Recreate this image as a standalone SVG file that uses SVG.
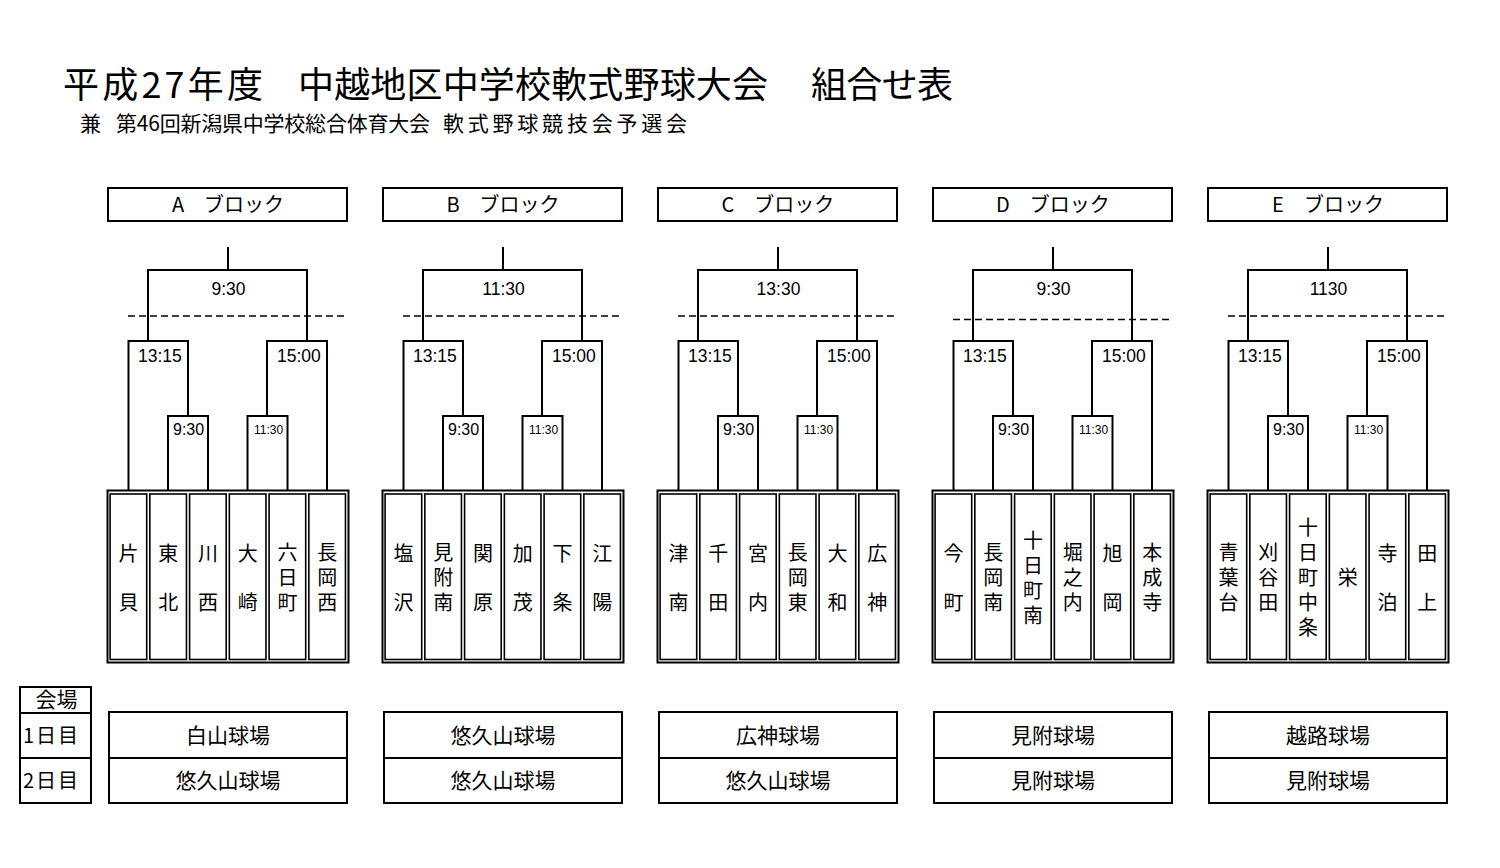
<svg xmlns="http://www.w3.org/2000/svg" width="1500" height="868" viewBox="0 0 1500 868">
<style>
.box{fill:#fff;stroke:#000;stroke-width:2}
.cell{fill:#fff;stroke:#000;stroke-width:1.6}
.ln{fill:none;stroke:#000;stroke-width:2}
.dash{fill:none;stroke:#000;stroke-width:1.6;stroke-dasharray:7 4}
.jp{font-family:"Noto Sans CJK JP","Noto Sans",sans-serif;fill:#000}
.tm{font-family:"Noto Sans CJK JP","Noto Sans",sans-serif;fill:#000;font-size:20px;text-anchor:middle;writing-mode:vertical-rl}
.s2{letter-spacing:29px}
.s3{letter-spacing:5px}
.hd{font-family:"Noto Sans CJK JP","Noto Sans",sans-serif;fill:#000;font-size:20px;text-anchor:middle}
.vn{font-family:"Noto Sans CJK JP","Noto Sans",sans-serif;fill:#000;font-size:21px;text-anchor:middle}
.num{font-family:"Liberation Sans",Arial,sans-serif;fill:#000}
.t18{font-size:17.5px}
.t16{font-size:16px}
.t12{font-size:12px}
.mid{text-anchor:middle}
</style>
<rect width="1500" height="868" fill="#fff"/>

<g id="title">
<text class="jp" x="63" y="98" font-size="36" textLength="200">平成27年度</text>
<text class="jp" x="298" y="98" font-size="36" textLength="470">中越地区中学校軟式野球大会</text>
<text class="jp" x="811" y="98" font-size="36" textLength="142">組合せ表</text>
</g>
<g id="subtitle">
<text class="jp" x="80" y="131" font-size="21">兼</text>
<text class="jp" x="116" y="131" font-size="21" textLength="314">第46回新潟県中学校総合体育大会</text>
<text class="jp" x="443" y="131" font-size="21" textLength="244">軟式野球競技会予選会</text>
</g>

<g id="connectors">
<g id="conn-A">
<path class="ln" d="M228 247V270M148 341V270H307V341M128.5 490V341H188V416M267 416V341H327V490M168 490V416H208V490M247.5 490V416H287.5V490"/>
<line class="dash" x1="128" y1="316" x2="346" y2="316"/>
</g>
<g id="conn-B" transform="translate(275,0)">
<path class="ln" d="M228 247V270M148 341V270H307V341M128.5 490V341H188V416M267 416V341H327V490M168 490V416H208V490M247.5 490V416H287.5V490"/>
<line class="dash" x1="128" y1="316" x2="346" y2="316"/>
</g>
<g id="conn-C" transform="translate(550,0)">
<path class="ln" d="M228 247V270M148 341V270H307V341M128.5 490V341H188V416M267 416V341H327V490M168 490V416H208V490M247.5 490V416H287.5V490"/>
<line class="dash" x1="128" y1="316" x2="346" y2="316"/>
</g>
<g id="conn-D" transform="translate(825,0)">
<path class="ln" d="M228 247V270M148 341V270H307V341M128.5 490V341H188V416M267 416V341H327V490M168 490V416H208V490M247.5 490V416H287.5V490"/>
<line class="dash" x1="128" y1="319.5" x2="346" y2="319.5"/>
</g>
<g id="conn-E" transform="translate(1100,0)">
<path class="ln" d="M228 247V270M148 341V270H307V341M128.5 490V341H188V416M267 416V341H327V490M168 490V416H208V490M247.5 490V416H287.5V490"/>
<line class="dash" x1="128" y1="316" x2="346" y2="316"/>
</g>
<g id="times">
<text class="num t18 mid" x="228.5" y="295">9:30</text>
<text class="num t18 mid" x="503.5" y="295">11:30</text>
<text class="num t18 mid" x="778.5" y="295">13:30</text>
<text class="num t18 mid" x="1053.5" y="295">9:30</text>
<text class="num t18 mid" x="1328.5" y="295">1130</text>
<g class="num">
<text class="t18" x="138" y="362">13:15</text><text class="t18" x="277" y="362">15:00</text>
<text class="t16" x="173" y="435">9:30</text><text class="t12" x="254" y="434">11:30</text>
<text class="t18" x="413" y="362">13:15</text><text class="t18" x="552" y="362">15:00</text>
<text class="t16" x="448" y="435">9:30</text><text class="t12" x="529" y="434">11:30</text>
<text class="t18" x="688" y="362">13:15</text><text class="t18" x="827" y="362">15:00</text>
<text class="t16" x="723" y="435">9:30</text><text class="t12" x="804" y="434">11:30</text>
<text class="t18" x="963" y="362">13:15</text><text class="t18" x="1102" y="362">15:00</text>
<text class="t16" x="998" y="435">9:30</text><text class="t12" x="1079" y="434">11:30</text>
<text class="t18" x="1238" y="362">13:15</text><text class="t18" x="1377" y="362">15:00</text>
<text class="t16" x="1273" y="435">9:30</text><text class="t12" x="1354" y="434">11:30</text>
</g>
</g>
</g>

<g id="block-A">
<g id="A-header"><rect class="box" x="108" y="188" width="239" height="33"/><text class="hd" x="228" y="212">A　ブロック</text></g>
<g id="A-teams">
<rect class="box" x="107.5" y="490.5" width="241" height="172"/>
<g id="A1"><rect class="cell" x="110.1" y="494" width="36.6" height="165.5"/><text class="tm s2" x="128.4" y="592">片貝</text></g>
<g id="A2"><rect class="cell" x="149.85" y="494" width="36.6" height="165.5"/><text class="tm s2" x="168.2" y="592">東北</text></g>
<g id="A3"><rect class="cell" x="189.6" y="494" width="36.6" height="165.5"/><text class="tm s2" x="207.9" y="592">川西</text></g>
<g id="A4"><rect class="cell" x="229.35" y="494" width="36.6" height="165.5"/><text class="tm s2" x="247.7" y="592">大崎</text></g>
<g id="A5"><rect class="cell" x="269.1" y="494" width="36.6" height="165.5"/><text class="tm s3" x="287.4" y="580">六日町</text></g>
<g id="A6"><rect class="cell" x="308.85" y="494" width="36.6" height="165.5"/><text class="tm s3" x="327.2" y="580">長岡西</text></g>
</g>
<g id="A-venue"><rect class="box" x="109" y="712" width="238" height="46"/><rect class="box" x="109" y="758" width="238" height="45"/><text class="vn" x="228" y="743">白山球場</text><text class="vn" x="228" y="788">悠久山球場</text></g>
</g>

<g id="block-B" transform="translate(275,0)">
<g id="B-header"><rect class="box" x="108" y="188" width="239" height="33"/><text class="hd" x="228" y="212">B　ブロック</text></g>
<g id="B-teams">
<rect class="box" x="107.5" y="490.5" width="241" height="172"/>
<g id="B1"><rect class="cell" x="110.1" y="494" width="36.6" height="165.5"/><text class="tm s2" x="128.4" y="592">塩沢</text></g>
<g id="B2"><rect class="cell" x="149.85" y="494" width="36.6" height="165.5"/><text class="tm s3" x="168.2" y="580">見附南</text></g>
<g id="B3"><rect class="cell" x="189.6" y="494" width="36.6" height="165.5"/><text class="tm s2" x="207.9" y="592">関原</text></g>
<g id="B4"><rect class="cell" x="229.35" y="494" width="36.6" height="165.5"/><text class="tm s2" x="247.7" y="592">加茂</text></g>
<g id="B5"><rect class="cell" x="269.1" y="494" width="36.6" height="165.5"/><text class="tm s2" x="287.4" y="592">下条</text></g>
<g id="B6"><rect class="cell" x="308.85" y="494" width="36.6" height="165.5"/><text class="tm s2" x="327.2" y="592">江陽</text></g>
</g>
<g id="B-venue"><rect class="box" x="109" y="712" width="238" height="46"/><rect class="box" x="109" y="758" width="238" height="45"/><text class="vn" x="228" y="743">悠久山球場</text><text class="vn" x="228" y="788">悠久山球場</text></g>
</g>

<g id="block-C" transform="translate(550,0)">
<g id="C-header"><rect class="box" x="108" y="188" width="239" height="33"/><text class="hd" x="228" y="212">C　ブロック</text></g>
<g id="C-teams">
<rect class="box" x="107.5" y="490.5" width="241" height="172"/>
<g id="C1"><rect class="cell" x="110.1" y="494" width="36.6" height="165.5"/><text class="tm s2" x="128.4" y="592">津南</text></g>
<g id="C2"><rect class="cell" x="149.85" y="494" width="36.6" height="165.5"/><text class="tm s2" x="168.2" y="592">千田</text></g>
<g id="C3"><rect class="cell" x="189.6" y="494" width="36.6" height="165.5"/><text class="tm s2" x="207.9" y="592">宮内</text></g>
<g id="C4"><rect class="cell" x="229.35" y="494" width="36.6" height="165.5"/><text class="tm s3" x="247.7" y="580">長岡東</text></g>
<g id="C5"><rect class="cell" x="269.1" y="494" width="36.6" height="165.5"/><text class="tm s2" x="287.4" y="592">大和</text></g>
<g id="C6"><rect class="cell" x="308.85" y="494" width="36.6" height="165.5"/><text class="tm s2" x="327.2" y="592">広神</text></g>
</g>
<g id="C-venue"><rect class="box" x="109" y="712" width="238" height="46"/><rect class="box" x="109" y="758" width="238" height="45"/><text class="vn" x="228" y="743">広神球場</text><text class="vn" x="228" y="788">悠久山球場</text></g>
</g>

<g id="block-D" transform="translate(825,0)">
<g id="D-header"><rect class="box" x="108" y="188" width="239" height="33"/><text class="hd" x="228" y="212">D　ブロック</text></g>
<g id="D-teams">
<rect class="box" x="107.5" y="490.5" width="241" height="172"/>
<g id="D1"><rect class="cell" x="110.1" y="494" width="36.6" height="165.5"/><text class="tm s2" x="128.4" y="592">今町</text></g>
<g id="D2"><rect class="cell" x="149.85" y="494" width="36.6" height="165.5"/><text class="tm s3" x="168.2" y="580">長岡南</text></g>
<g id="D3"><rect class="cell" x="189.6" y="494" width="36.6" height="165.5"/><text class="tm s3" x="207.9" y="580">十日町南</text></g>
<g id="D4"><rect class="cell" x="229.35" y="494" width="36.6" height="165.5"/><text class="tm s3" x="247.7" y="580">堀之内</text></g>
<g id="D5"><rect class="cell" x="269.1" y="494" width="36.6" height="165.5"/><text class="tm s2" x="287.4" y="592">旭岡</text></g>
<g id="D6"><rect class="cell" x="308.85" y="494" width="36.6" height="165.5"/><text class="tm s3" x="327.2" y="580">本成寺</text></g>
</g>
<g id="D-venue"><rect class="box" x="109" y="712" width="238" height="46"/><rect class="box" x="109" y="758" width="238" height="45"/><text class="vn" x="228" y="743">見附球場</text><text class="vn" x="228" y="788">見附球場</text></g>
</g>

<g id="block-E" transform="translate(1100,0)">
<g id="E-header"><rect class="box" x="108" y="188" width="239" height="33"/><text class="hd" x="228" y="212">E　ブロック</text></g>
<g id="E-teams">
<rect class="box" x="107.5" y="490.5" width="241" height="172"/>
<g id="E1"><rect class="cell" x="110.1" y="494" width="36.6" height="165.5"/><text class="tm s3" x="128.4" y="580">青葉台</text></g>
<g id="E2"><rect class="cell" x="149.85" y="494" width="36.6" height="165.5"/><text class="tm s3" x="168.2" y="580">刈谷田</text></g>
<g id="E3"><rect class="cell" x="189.6" y="494" width="36.6" height="165.5"/><text class="tm s3" x="207.9" y="580">十日町中条</text></g>
<g id="E4"><rect class="cell" x="229.35" y="494" width="36.6" height="165.5"/><text class="tm" x="247.7" y="577.5">栄</text></g>
<g id="E5"><rect class="cell" x="269.1" y="494" width="36.6" height="165.5"/><text class="tm s2" x="287.4" y="592">寺泊</text></g>
<g id="E6"><rect class="cell" x="308.85" y="494" width="36.6" height="165.5"/><text class="tm s2" x="327.2" y="592">田上</text></g>
</g>
<g id="E-venue"><rect class="box" x="109" y="712" width="238" height="46"/><rect class="box" x="109" y="758" width="238" height="45"/><text class="vn" x="228" y="743">越路球場</text><text class="vn" x="228" y="788">見附球場</text></g>
</g>

<g id="venue-legend">
<rect class="box" x="20" y="687" width="71" height="26"/>
<rect class="box" x="20" y="713" width="71" height="45"/>
<rect class="box" x="20" y="758" width="71" height="45"/>
<text class="jp" x="56.5" y="707" font-size="21" text-anchor="middle">会場</text>
<text class="jp" x="23" y="743" font-size="20" textLength="55">1日目</text>
<text class="jp" x="23" y="788" font-size="20" textLength="55">2日目</text>
</g>
</svg>
